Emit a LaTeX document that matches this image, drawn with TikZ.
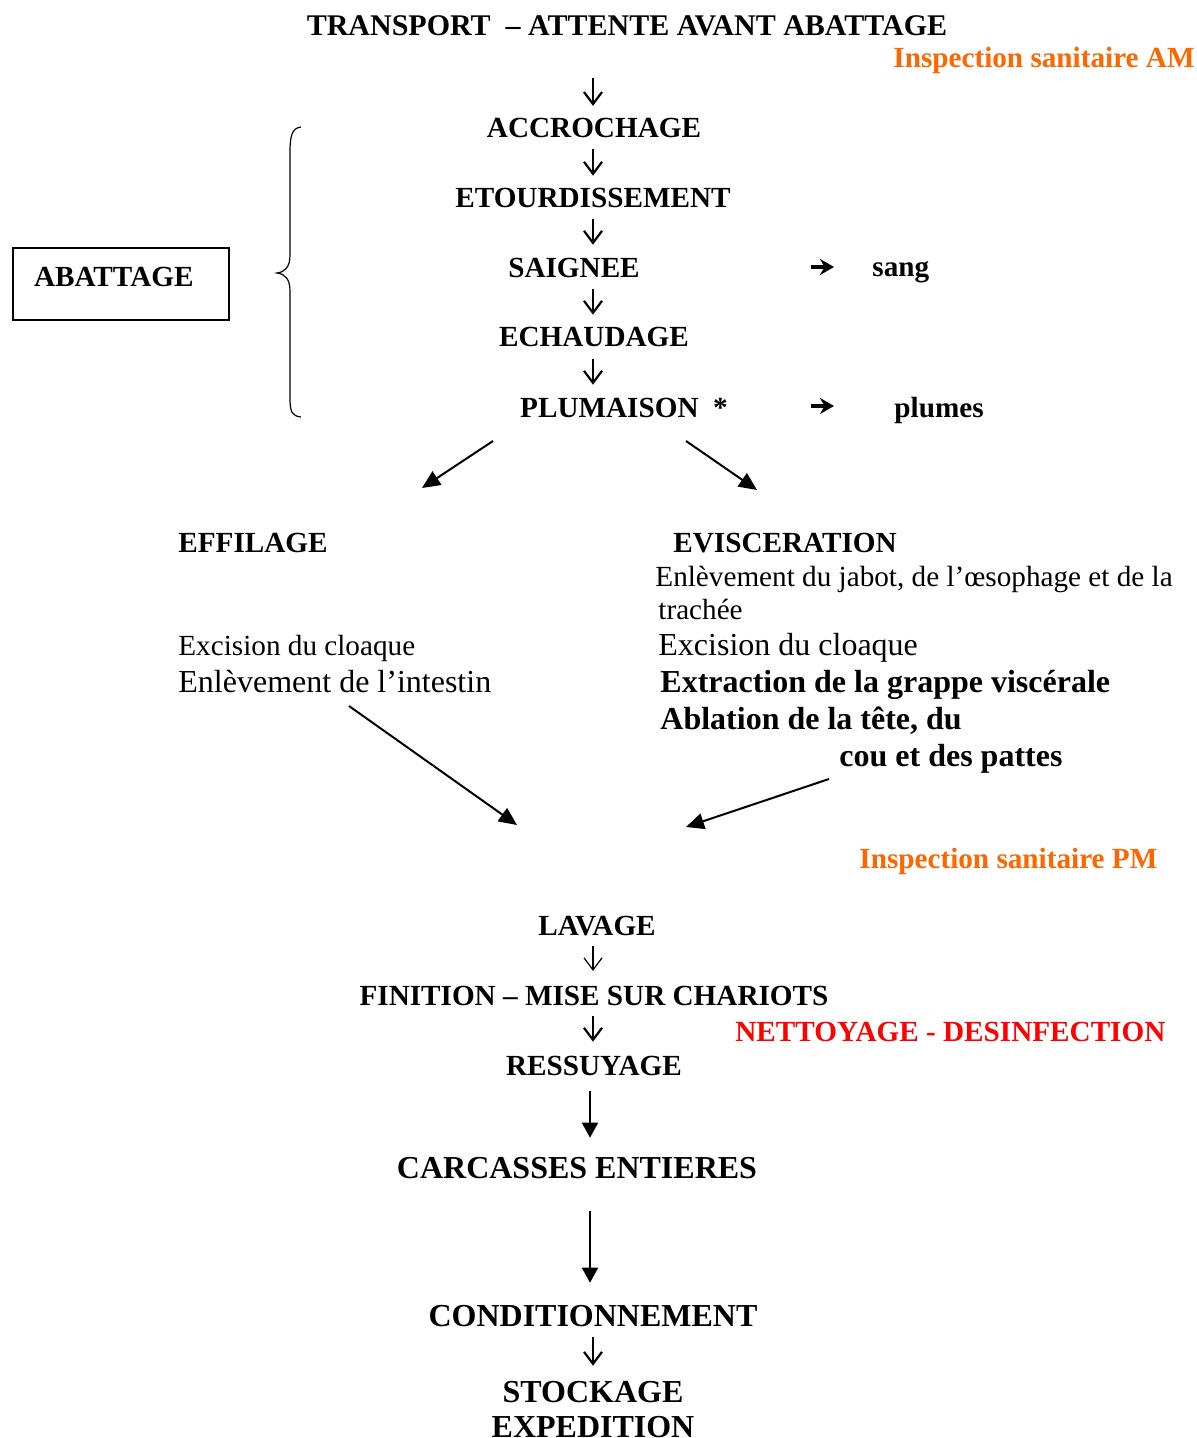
\documentclass[tikz,border=0pt]{standalone}
\usepackage{fontspec}
\setmainfont{Liberation Serif}
\usetikzlibrary{arrows.meta}

\definecolor{inspOrange}{RGB}{255,102,0}
\definecolor{cleanRed}{RGB}{255,0,0}

\begin{document}
\begin{tikzpicture}[
    x=0.5pt, y=-0.5pt,
    stepc/.style={inner sep=0, anchor=base, font=\fontsize{14.6}{17}\selectfont\bfseries},
    stepl/.style={inner sep=0, anchor=base west, font=\fontsize{14.6}{17}\selectfont\bfseries},
    bigc/.style={inner sep=0, anchor=base, font=\fontsize{16}{17.5}\selectfont\bfseries},
    bigl/.style={inner sep=0, anchor=base west, font=\fontsize{16}{17.5}\selectfont\bfseries},
    note/.style={inner sep=0, anchor=base west, font=\fontsize{14.6}{17}\selectfont},
    bignote/.style={inner sep=0, anchor=base west, font=\fontsize{16}{17.5}\selectfont},
    down/.style={-{Straight Barb[length=6pt,width=9pt,line width=1.1pt]}, line width=1.1pt},
    thindown/.style={-{Straight Barb[length=6pt,width=9pt]}, line width=0.6pt},
    bigarrow/.style={-{Triangle[length=7.5pt,width=8pt]}, line width=0.9pt},
    diag/.style={-{Triangle[length=9pt,width=8pt]}, line width=1pt},
    side/.style={-{Stealth[length=7pt,width=8pt]}, line width=1.7pt}
]
\useasboundingbox (0,0) rectangle (1197,1438);
\coordinate (spine) at (593,0);
\coordinate (spineB) at (590,0);

% chaine principale
\node[stepc, font=\fontsize{15}{17}\selectfont\bfseries] (title) at (627,36) {TRANSPORT\ \ – ATTENTE AVANT ABATTAGE};
\node[stepl, anchor=base east, text=inspOrange] (inspAM) at (1195,68) {Inspection sanitaire AM};
\node[stepc] (accro) at (594,138) {ACCROCHAGE};
\node[stepc] (etour) at (593,208) {ETOURDISSEMENT};
\node[stepc] (saign) at (574,278) {SAIGNEE};
\node[stepc] (echau) at (594,347) {ECHAUDAGE};
\node[stepc] (pluma) at (624,417) {PLUMAISON\ \ *};
\node[stepl] (sang) at (872,277) {sang};
\node[stepl] (plumes) at (894,417) {plumes};

\draw[down] (title.south -| spine) ++(0,41) -- ++(0,28);
\draw[down] (accro.south -| spine) ++(0,10) -- ++(0,27);
\draw[down] (etour.south -| spine) ++(0,10) -- ++(0,26);
\draw[down] (saign.south -| spine) ++(0,10) -- ++(0,26);
\draw[down] (echau.south -| spine) ++(0,11) -- ++(0,26);
\draw[side] (sang.base west) ++(-61,-10) -- ++(23,0);
\draw[side] (plumes.base west) ++(-83,-11) -- ++(23,0);

% abattage
\node[draw, line width=0.8pt, inner xsep=10.5pt, text width=87pt, align=left,
      minimum height=36pt, text height=9.7pt, text depth=6.7pt,
      font=\fontsize{14.6}{17}\selectfont\bfseries] (abat) at (121,284) {ABATTAGE};
\draw[line width=0.6pt] (301,127) .. controls (292,128) and (290,136) .. (290,152)
    -- (290,255) .. controls (290,267) and (285,272) .. (277,273)
    .. controls (285,274) and (290,279) .. (290,291)
    -- (290,398) .. controls (290,412) and (292,416) .. (301,417);

% deux branches
\node[stepl] (effil) at (178,552) {EFFILAGE};
\node[stepl] (evisc) at (673,552) {EVISCERATION};
\node[note] (jabot) at (655,586) {Enlèvement du jabot, de l’œsophage et de la};
\node[note] (trach) at (658,619) {trachée};
\node[bignote] (excR) at (658,655) {Excision du cloaque};
\node[note] (excL) at (178,655) {Excision du cloaque};
\node[bignote] (intest) at (178,692) {Enlèvement de l’intestin};
\node[bigl] (extrac) at (660,692) {Extraction de la grappe viscérale};
\node[bigl] (ablat) at (660,729) {Ablation de la tête, du};
\node[bigl] (cou) at (839,766) {cou et des pattes};

\coordinate (fromPL) at (493,441);
\coordinate (toEF) at (422,488);
\coordinate (fromPR) at (686,441);
\coordinate (toEV) at (757,490);
\coordinate (fromEF) at (349,706);
\coordinate (toLV1) at (517,825);
\coordinate (fromEV) at (829,779);
\coordinate (toLV2) at (686,827);
\draw[diag] (fromPL) -- (toEF);
\draw[diag] (fromPR) -- (toEV);
\draw[diag] (fromEF) -- (toLV1);
\draw[diag] (fromEV) -- (toLV2);

% fin de chaine
\node[stepl, text=inspOrange] (inspPM) at (859,868) {Inspection sanitaire PM};
\node[stepc] (lavage) at (597,935) {LAVAGE};
\node[stepc] (finit) at (594,1005) {FINITION – MISE SUR CHARIOTS};
\node[stepl, text=cleanRed] (nettoy) at (735,1041) {NETTOYAGE - DESINFECTION};
\node[stepc] (ressu) at (594,1075) {RESSUYAGE};
\node[bigc] (carc) at (577,1178) {CARCASSES ENTIERES};
\node[bigc] (condi) at (593,1326) {CONDITIONNEMENT};
\node[bigc] (stock) at (593,1402) {STOCKAGE};
\node[bigc] (exped) at (593,1437) {EXPEDITION};

\draw[thindown] (lavage.south -| spine) ++(0,10) -- ++(0,25);
\draw[down] (finit.south -| spine) ++(0,10) -- ++(0,26);
\draw[bigarrow] (ressu.south -| spineB) ++(0,15) -- ++(0,47);
\draw[bigarrow] (carc.south -| spineB) ++(0,32) -- ++(0,72);
\draw[down] (condi.south -| spine) ++(0,10) -- ++(0,29);
\end{tikzpicture}
\end{document}
